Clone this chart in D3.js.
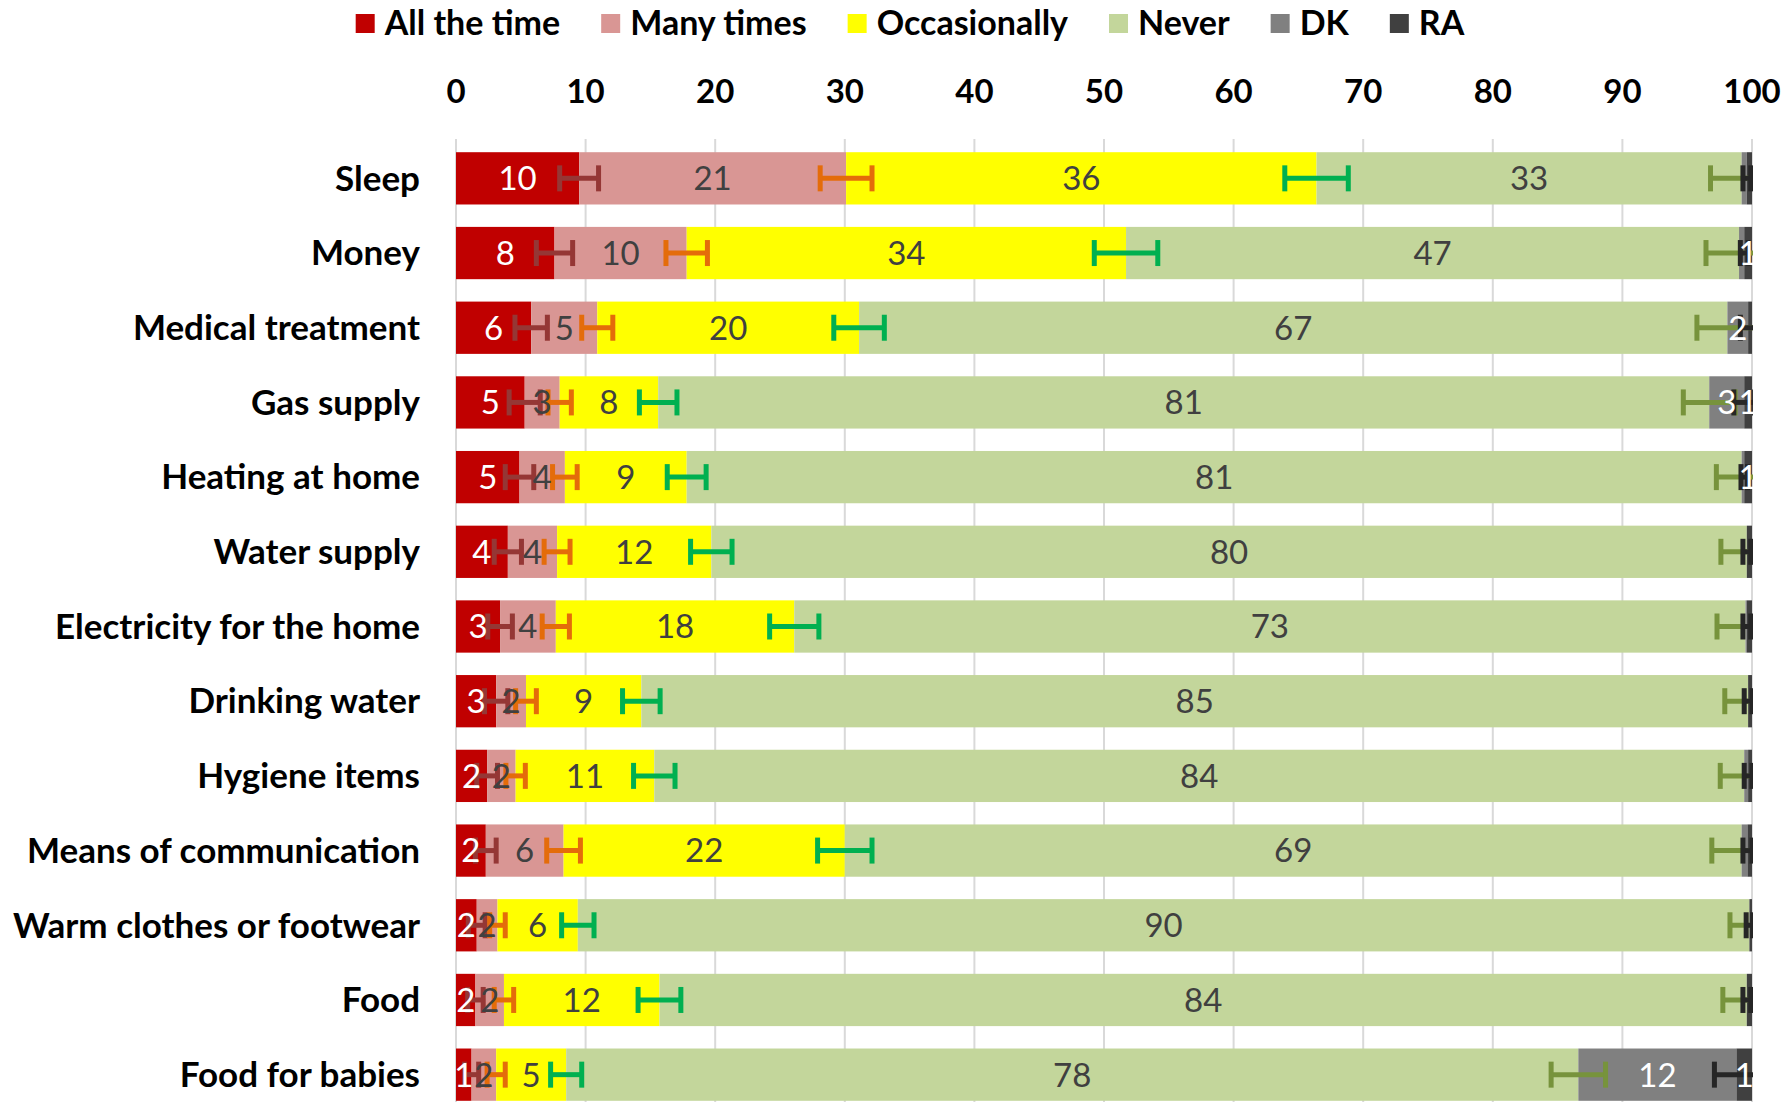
<!DOCTYPE html>
<html>
<head>
<meta charset="utf-8">
<script src="https://cdn.jsdelivr.net/npm/d3@7"></script>
<style>
  body { margin: 0; background: #fff; }
  text { font-family: Lato, "Open Sans", sans-serif; }
</style>
</head>
<body>
<div id="chart"></div>
<script>
// categories, top to bottom
var categories = ["Sleep", "Money", "Medical treatment", "Gas supply", "Heating at home",
    "Water supply", "Electricity for the home", "Drinking water", "Hygiene items",
    "Means of communication", "Warm clothes or footwear", "Food", "Food for babies"];

// shares in percent
var allTheTime   = [9.5, 7.6, 5.8, 5.3, 4.9, 4.0, 3.4, 3.1, 2.4, 2.3, 1.6, 1.5, 1.2];
var manyTimes    = [20.6, 10.2, 5.1, 2.7, 3.5, 3.8, 4.3, 2.3, 2.2, 6.0, 1.6, 2.2, 1.9];
var occasionally = [36.3, 33.9, 20.2, 7.6, 9.4, 11.9, 18.4, 8.9, 10.7, 21.7, 6.2, 12.0, 5.4];
var never        = [32.8, 47.3, 67.0, 81.1, 81.4, 79.9, 73.4, 85.4, 84.1, 69.2, 90.4, 83.9, 78.1];
var dk           = [0.4, 0.4, 1.6, 2.7, 0.2, 0, 0.1, 0, 0.3, 0.45, 0, 0, 12.2];
var ra           = [0.4, 0.6, 0.3, 0.6, 0.6, 0.4, 0.4, 0.3, 0.3, 0.35, 0.2, 0.4, 1.2];

// error bar half widths (percentage points)
var errAll   = [1.5, 1.4, 1.25, 1.2, 1.1, 1.05, 0.95, 0.9, 0.8, 0.8, 0.65, 0.6, 0.55];
var errMany  = [2.0, 1.6, 1.2, 0.9, 0.95, 1.0, 1.05, 0.8, 0.75, 1.3, 0.6, 0.75, 0.7];
var errOcc   = [2.45, 2.45, 1.95, 1.45, 1.5, 1.6, 1.9, 1.45, 1.6, 2.1, 1.25, 1.65, 1.2];
var errNever = [2.4, 2.55, 2.35, 2.0, 1.95, 2.0, 2.2, 1.8, 1.85, 2.3, 1.5, 1.85, 2.1];
var errDk    = [0.3, 0.3, 0.6, 0.8, 0.25, 0.3, 0.3, 0.3, 0.3, 0.35, 0.25, 0.3, 1.7];

var xTicks = [0, 10, 20, 30, 40, 50, 60, 70, 80, 90, 100];

var series = [
    {name: "All the time", values: allTheTime, err: errAll, fill: "#C00000", label: "#ffffff", errColor: "#953735"},
    {name: "Many times", values: manyTimes, err: errMany, fill: "#D99694", label: "#404040", errColor: "#E46C0A"},
    {name: "Occasionally", values: occasionally, err: errOcc, fill: "#FFFF00", label: "#404040", errColor: "#00B050"},
    {name: "Never", values: never, err: errNever, fill: "#C3D69B", label: "#404040", errColor: "#77933C"},
    {name: "DK", values: dk, err: errDk, fill: "#808080", label: "#ffffff", errColor: "#262626"},
    {name: "RA", values: ra, err: null, fill: "#404040", label: "#ffffff", errColor: null}
];

var width = 1788, height = 1102;
var svg = d3.select("#chart").append("svg").attr("width", width).attr("height", height);
svg.append("rect").attr("width", width).attr("height", height).attr("fill", "#fff");

var x = d3.scaleLinear().domain([0, 100]).range([456, 1752]);
var y = d3.scaleBand().domain(categories).range([141, 1112]).paddingInner(0.3).paddingOuter(0.15);

svg.append("clipPath").attr("id", "plotClip").append("rect")
    .attr("x", x(0)).attr("y", 130).attr("width", x(100) - x(0) + 1).attr("height", 1000);

//gridlines
svg.append("g").selectAll("line").data(xTicks).enter().append("line")
    .attr("x1", function (d) { return x(d); })
    .attr("x2", function (d) { return x(d); })
    .attr("y1", 139).attr("y2", 1112)
    .attr("stroke", "#d9d9d9").attr("stroke-width", 2);

//top axis labels
svg.append("g").selectAll("text").data(xTicks).enter().append("text")
    .attr("x", function (d) { return x(d); })
    .attr("y", 103)
    .attr("text-anchor", "middle")
    .attr("font-size", 33).attr("font-weight", "bold").attr("fill", "#000")
    .text(function (d) { return d; });

//category labels
svg.append("g").selectAll("text").data(categories).enter().append("text")
    .attr("x", 420)
    .attr("y", function (d) { return y(d) + y.bandwidth() / 2; })
    .attr("dy", "0.35em")
    .attr("text-anchor", "end")
    .attr("font-size", 35).attr("font-weight", "bold").attr("fill", "#000")
    .text(function (d) { return d; });

//stack the segments
var rows = categories.map(function (c, i) {
    var start = 0;
    return series.map(function (s) {
        var seg = {cat: c, s: s, v: s.values[i], x0: start, x1: start + s.values[i], e: s.err ? s.err[i] : 0};
        start += s.values[i];
        return seg;
    });
});
var segs = rows.reduce(function (a, b) { return a.concat(b); }, []);

var bars = svg.append("g");
bars.selectAll("rect").data(segs.filter(function (d) { return d.v > 0; })).enter().append("rect")
    .attr("x", function (d) { return x(d.x0); })
    .attr("width", function (d) { return x(d.x1) - x(d.x0); })
    .attr("y", function (d) { return y(d.cat); })
    .attr("height", y.bandwidth())
    .attr("fill", function (d) { return d.s.fill; });

//error bars
var capH = 26;
var errG = svg.append("g").attr("clip-path", "url(#plotClip)");
segs.filter(function (d) { return d.s.err; }).forEach(function (d) {
    var cy = y(d.cat) + y.bandwidth() / 2;
    var xa = x(d.x1 - d.e), xb = x(d.x1 + d.e);
    errG.append("line").attr("x1", xa).attr("x2", xb).attr("y1", cy).attr("y2", cy)
        .attr("stroke", d.s.errColor).attr("stroke-width", 5);
    [xa, xb].forEach(function (xc) {
        errG.append("line").attr("x1", xc).attr("x2", xc).attr("y1", cy - capH / 2).attr("y2", cy + capH / 2)
            .attr("stroke", d.s.errColor).attr("stroke-width", 5);
    });
});

//data labels
svg.append("g").selectAll("text").data(segs.filter(function (d) { return Math.round(d.v) >= 1; })).enter().append("text")
    .attr("x", function (d) { return (x(d.x0) + x(d.x1)) / 2; })
    .attr("y", function (d) { return y(d.cat) + y.bandwidth() / 2; })
    .attr("dy", "0.36em")
    .attr("text-anchor", "middle")
    .attr("font-size", 33)
    .attr("fill", function (d) { return d.s.label; })
    .text(function (d) { return Math.round(d.v); });

//legend
var legend = svg.append("g");
var lx = 0;
series.forEach(function (s) {
    var item = legend.append("g").attr("transform", "translate(" + lx + ",0)");
    item.append("rect").attr("x", 0).attr("y", 14).attr("width", 19).attr("height", 19).attr("fill", s.fill);
    var t = item.append("text").attr("x", 29).attr("y", 35)
        .attr("font-size", 34).attr("font-weight", "bold").attr("fill", "#000").text(s.name);
    lx += 29 + t.node().getComputedTextLength() + 41;
});
var legendW = lx - 41;
legend.attr("transform", "translate(" + (910 - legendW / 2) + ",0)");
</script>
</body>
</html>
